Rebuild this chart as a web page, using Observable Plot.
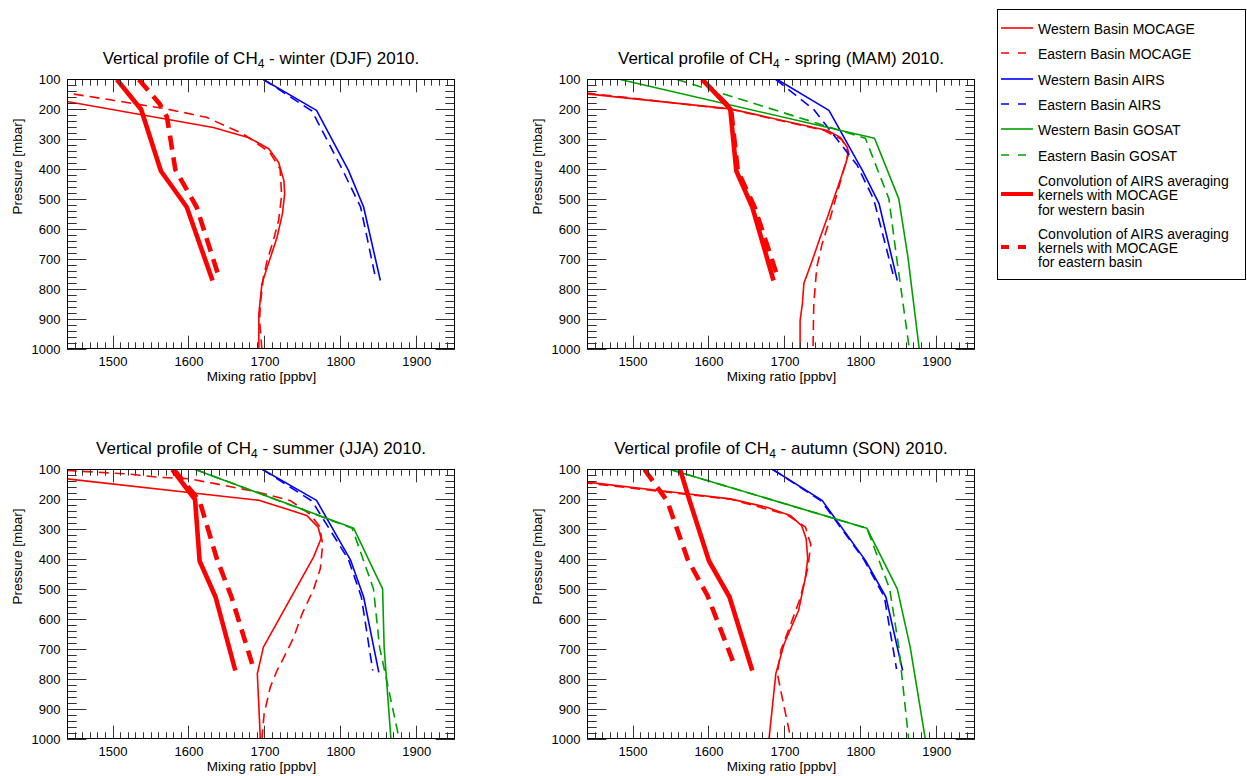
<!DOCTYPE html>
<html>
<head>
<meta charset="utf-8">
<script src="https://cdn.jsdelivr.net/npm/d3@7"></script>
<script src="https://cdn.jsdelivr.net/npm/@observablehq/plot@0.6"></script>
<style>
  html, body { margin: 0; padding: 0; background: #fff; }
  body { font-family: "Liberation Sans", Arial, Helvetica, sans-serif; color: #000; }
  #root { position: relative; width: 1247px; height: 776px; overflow: hidden; background: #fff; }
  .panel { position: absolute; }
  .panel svg { max-width: none !important; display: block; }
  .title { position: absolute; font-size: 17px; line-height: 20px; white-space: nowrap; transform: translateX(-50%); }
  .title sub { font-size: 12px; line-height: 0; vertical-align: -4px; }
  .legend-box { position: absolute; left: 997px; top: 9px; width: 249px; height: 271px; box-sizing: border-box; border: 1px solid #000; }
  .legend-text { position: absolute; font-size: 14px; white-space: nowrap; }
  .legend-sample { position: absolute; }
</style>
</head>
<body>
<div id="root"></div>
<script>
// ---------------- data ----------------
const pressureTicks = [100, 200, 300, 400, 500, 600, 700, 800, 900, 1000];
const mixingTicks = [1500, 1600, 1700, 1800, 1900];
const seasons = ["winter (DJF)", "spring (MAM)", "summer (JJA)", "autumn (SON)"];
const seriesNames = [
  ["Western Basin MOCAGE"],
  ["Eastern Basin MOCAGE"],
  ["Western Basin AIRS"],
  ["Eastern Basin AIRS"],
  ["Western Basin GOSAT"],
  ["Eastern Basin GOSAT"],
  ["Convolution of AIRS averaging", "kernels with MOCAGE", "for western basin"],
  ["Convolution of AIRS averaging", "kernels with MOCAGE", "for eastern basin"]
];

// each entry: [pressure (mbar), mixing ratio (ppbv)]
// winter (DJF)
const djfWestMocage = [[100,1279],[173,1439],[260,1632],[294,1679],[331,1705],[376,1718],[437,1725],[481,1726],[548,1723],[626,1716],[726,1703],[781,1696],[881,1692],[1000,1692]];
const djfEastMocage = [[100,1302],[145,1439],[170,1502],[198,1570],[226,1623],[281,1671],[342,1706],[398,1720],[487,1722],[570,1718],[637,1711],[703,1703],[759,1698],[848,1694],[903,1693],[1000,1696]];
const djfWestAirs = [[100,1698],[203,1768],[403,1810],[525,1830],[770,1852]];
const djfEastAirs = [[100,1698],[205,1762],[395,1801],[525,1826],[765,1846]];
const djfConvWest = [[100,1505],[200,1537],[405,1563],[525,1597],[770,1631]];
const djfConvEast = [[100,1534],[180,1561],[225,1571],[400,1582],[525,1610],[755,1639]];

// spring (MAM)
const mamWestMocage = [[100,1258],[148,1439],[198,1628],[270,1756],[293,1773],[326,1782],[345,1784],[381,1780],[448,1771],[559,1756],[637,1745],[703,1736],[779,1725],[848,1723],[903,1720],[1000,1720]];
const mamEastMocage = [[100,1270],[145,1439],[200,1630],[270,1752],[300,1775],[340,1783],[360,1782],[459,1771],[559,1760],[648,1749],[725,1742],[848,1738],[1000,1737]];
const mamWestAirs = [[100,1690],[203,1758],[403,1802],[514,1824],[770,1848]];
const mamEastAirs = [[100,1688],[200,1738],[385,1795],[500,1817],[765,1844]];
const mamWestGosat = [[100,1483],[296,1818],[498,1850],[692,1862],[1000,1877]];
const mamEastGosat = [[100,1558],[296,1806],[498,1837],[692,1847],[1000,1864]];
const mamConvWest = [[100,1591],[198,1628],[405,1636],[525,1657],[770,1685]];
const mamConvEast = [[100,1591],[198,1629],[405,1638],[525,1660],[755,1690]];

// summer (JJA)
const jjaWestMocage = [[100,1330],[131,1439],[203,1693],[253,1755],[292,1770],[330,1774],[392,1764],[692,1698],[781,1690],[1000,1694]];
const jjaEastMocage = [[100,1418],[103,1439],[115,1520],[126,1561],[131,1600],[148,1636],[175,1690],[203,1733],[250,1760],[290,1772],[350,1776],[430,1773],[500,1764],[581,1749],[659,1738],[726,1725],[770,1716],[826,1707],[914,1699],[1000,1696]];
const jjaWestAirs = [[100,1697],[203,1768],[403,1813],[525,1830],[776,1850]];
const jjaEastAirs = [[100,1697],[205,1762],[400,1810],[525,1827],[770,1842]];
const jjaWestGosat = [[100,1608],[296,1817],[498,1855],[692,1857],[1000,1866]];
const jjaEastGosat = [[100,1609],[296,1815],[498,1843],[692,1851],[1000,1877]];
const jjaConvWest = [[100,1578],[200,1608],[405,1614],[525,1635],[770,1661]];
const jjaConvEast = [[100,1580],[205,1614],[400,1637],[525,1656],[755,1684]];

// autumn (SON)
const sonWestMocage = [[100,1297],[142,1439],[181,1571],[198,1628],[226,1676],[253,1707],[287,1722],[331,1728],[398,1730],[460,1727],[570,1718],[681,1699],[781,1688],[1000,1679]];
const sonEastMocage = [[100,1287],[145,1439],[200,1630],[250,1702],[292,1727],[350,1734],[430,1730],[530,1720],[620,1707],[700,1695],[780,1690],[880,1698],[1000,1708]];
const sonWestAirs = [[100,1684],[203,1749],[403,1806],[525,1833],[770,1855]];
const sonEastAirs = [[100,1684],[205,1748],[400,1804],[525,1831],[765,1847]];
const sonWestGosat = [[100,1549],[296,1808],[498,1848],[692,1865],[1000,1885]];
const sonEastGosat = [[100,1549],[296,1808],[498,1838],[692,1850],[1000,1863]];
const sonConvWest = [[100,1562],[200,1574],[405,1600],[525,1627],[770,1657]];
const sonConvEast = [[100,1515],[205,1545],[400,1572],[520,1598],[755,1634]];

// ---------------- styles / layout ----------------
const RED = "#ff0000", BLUE = "#0000ff", GREEN = "#00a000";
const THIN = 1.6, THICK = 4.6;
const lineStyles = [
  {color: RED, width: THIN, dash: null},
  {color: RED, width: THIN, dash: "10,6"},
  {color: BLUE, width: THIN, dash: null},
  {color: BLUE, width: THIN, dash: "10,6"},
  {color: GREEN, width: THIN, dash: null},
  {color: GREEN, width: THIN, dash: "10,6"},
  {color: RED, width: THICK, dash: null},
  {color: RED, width: THICK, dash: "14,8"}
];

const panels = [
  {season: seasons[0], left: 0, top: 70, series: [djfWestMocage, djfEastMocage, djfWestAirs, djfEastAirs, null, null, djfConvWest, djfConvEast]},
  {season: seasons[1], left: 520, top: 70, series: [mamWestMocage, mamEastMocage, mamWestAirs, mamEastAirs, mamWestGosat, mamEastGosat, mamConvWest, mamConvEast]},
  {season: seasons[2], left: 0, top: 460, series: [jjaWestMocage, jjaEastMocage, jjaWestAirs, jjaEastAirs, jjaWestGosat, jjaEastGosat, jjaConvWest, jjaConvEast]},
  {season: seasons[3], left: 520, top: 460, series: [sonWestMocage, sonEastMocage, sonWestAirs, sonEastAirs, sonWestGosat, sonEastGosat, sonConvWest, sonConvEast]}
];

const W = 470, H = 319, mL = 67, mR = 15, mT = 9, mB = 40;
const FW = W - mL - mR, FH = H - mT - mB;
const MAJ_X = 13.3, MIN_X = 6.7, MAJ_Y = 19.4, MIN_Y = 9.7;
const TICK_COLOR = "#333";

const minorX = d3.range(1440, 1951, 10).filter(v => v % 100 !== 0);
const minorY = d3.range(100, 1001, 20).filter(v => v % 100 !== 0);
const fmt = d3.format("d");

const root = document.getElementById("root");

function addInwardTicks(svg) {
  // draw IDL-style inward ticks on all four sides, positioned by the plot's own scales
  const xs = svg.scale("x"), ys = svg.scale("y");
  const top = mT, bottom = mT + FH, left = mL, right = mL + FW;
  const g = d3.select(svg).append("g")
    .attr("stroke", TICK_COLOR).attr("stroke-width", 1).attr("fill", "none");
  const px = v => Math.round(xs.apply(v)) + 0.5;
  const py = v => Math.round(ys.apply(v)) + 0.5;
  const xTicks = mixingTicks.map(v => [v, MAJ_X]).concat(minorX.map(v => [v, MIN_X]));
  const yTicks = pressureTicks.map(v => [v, MAJ_Y]).concat(minorY.map(v => [v, MIN_Y]));
  for (const [v, len] of xTicks) {
    const x = px(v);
    g.append("line").attr("x1", x).attr("x2", x).attr("y1", bottom).attr("y2", bottom - len);
    g.append("line").attr("x1", x).attr("x2", x).attr("y1", top).attr("y2", top + len);
  }
  for (const [v, len] of yTicks) {
    const y = py(v);
    g.append("line").attr("y1", y).attr("y2", y).attr("x1", left).attr("x2", left + len);
    g.append("line").attr("y1", y).attr("y2", y).attr("x1", right).attr("x2", right - len);
  }
}

function makePanel(cfg) {
  const lineMarks = [];
  cfg.series.forEach((data, i) => {
    if (!data) return;
    const s = lineStyles[i];
    lineMarks.push(Plot.line(data, {
      x: d => d[1], y: d => d[0],
      stroke: s.color, strokeWidth: s.width,
      strokeDasharray: s.dash == null ? undefined : s.dash,
      strokeLinecap: "butt", strokeLinejoin: "round",
      clip: true
    }));
  });
  const svg = Plot.plot({
    width: W, height: H,
    marginLeft: mL, marginRight: mR, marginTop: mT, marginBottom: mB,
    x: {domain: [1440, 1951]},
    y: {domain: [1000, 100]},
    style: {fontFamily: '"Liberation Sans", Arial, Helvetica, sans-serif', fontSize: "13px", background: "transparent", overflow: "visible", color: "#000"},
    marks: [
      ...lineMarks,
      Plot.axisX(mixingTicks, {tickSize: 0, tickPadding: 7, tickFormat: fmt, label: null, fill: "#000"}),
      Plot.axisY(pressureTicks, {tickSize: 0, tickPadding: 7, tickFormat: fmt, label: null, fill: "#000"}),
      Plot.text(["Mixing ratio [ppbv]"], {text: d => d, frameAnchor: "bottom", lineAnchor: "middle", dy: 27, fontSize: 13.5, fill: "#000"}),
      Plot.text(["Pressure [mbar]"], {text: d => d, frameAnchor: "left", lineAnchor: "middle", rotate: -90, dx: -50, fontSize: 13.5, fill: "#000"})
    ]
  });
  addInwardTicks(svg);
  // frame on top
  d3.select(svg).append("rect")
    .attr("x", mL + 0.5).attr("y", mT + 0.5).attr("width", FW - 1).attr("height", FH - 1)
    .attr("fill", "none").attr("stroke", "#000").attr("stroke-width", 1);

  const div = document.createElement("div");
  div.className = "panel";
  div.style.left = cfg.left + "px";
  div.style.top = cfg.top + "px";
  div.appendChild(svg);
  root.appendChild(div);

  const title = document.createElement("div");
  title.className = "title";
  title.style.left = (cfg.left + mL + FW / 2) + "px";
  title.style.top = (cfg.top - 21) + "px";
  title.innerHTML = `Vertical profile of CH<sub>4</sub> - ${cfg.season} 2010.`;
  root.appendChild(title);
}

panels.forEach(makePanel);

// ---------------- legend ----------------
const box = document.createElement("div");
box.className = "legend-box";
root.appendChild(box);

const rowCenters = [29, 54.3, 79.6, 104.9, 130.2, 155.5, 195.3, 248];
const sampleLeft = 1001, sampleW = 32, textLeft = 1038;
seriesNames.forEach((lines, i) => {
  const s = lineStyles[i];
  const cy = rowCenters[i];
  const ns = "http://www.w3.org/2000/svg";
  const svg = document.createElementNS(ns, "svg");
  svg.setAttribute("width", sampleW);
  svg.setAttribute("height", 10);
  svg.setAttribute("class", "legend-sample");
  svg.style.left = sampleLeft + "px";
  svg.style.top = (cy - 6) + "px";
  const ln = document.createElementNS(ns, "line");
  ln.setAttribute("x1", 0); ln.setAttribute("x2", sampleW);
  ln.setAttribute("y1", 5); ln.setAttribute("y2", 5);
  ln.setAttribute("stroke", s.color);
  ln.setAttribute("stroke-width", s.width === THICK ? 4 : s.width);
  if (s.dash) ln.setAttribute("stroke-dasharray", "8,9");
  svg.appendChild(ln);
  root.appendChild(svg);

  const t = document.createElement("div");
  t.className = "legend-text";
  t.style.left = textLeft + "px";
  if (lines.length === 1) {
    t.style.lineHeight = "16px";
    t.style.top = (cy - 8) + "px";
  } else {
    t.style.lineHeight = "14.3px";
    t.style.top = (cy - 14.3 - 7) + "px";
  }
  t.innerHTML = lines.join("<br>");
  root.appendChild(t);
});
</script>
</body>
</html>
